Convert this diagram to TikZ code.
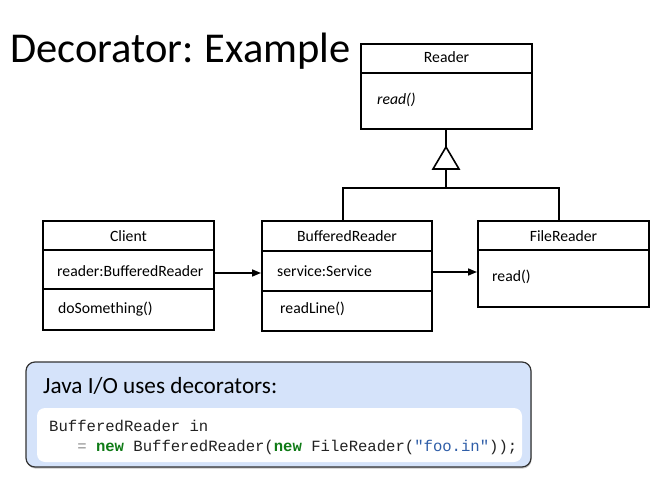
\documentclass[tikz,border=0pt]{standalone}
\usepackage{fontspec}
\setmainfont{Carlito}
\newfontfamily\codefont{Liberation Mono}
\usetikzlibrary{arrows.meta,shadows}
\definecolor{boxblue}{HTML}{D5E3FA}
\definecolor{kwgreen}{HTML}{0F7B16}
\definecolor{strblue}{HTML}{2F5EA8}
\definecolor{codegray}{HTML}{222222}
\definecolor{eqgray}{HTML}{8A8A8A}
\definecolor{framegray}{HTML}{333333}
\begin{document}
\begin{tikzpicture}[x=1pt,y=-1pt,
  umlbox/.style={draw=black, line width=2pt, inner sep=0pt},
  divider/.style={draw=black, line width=1.5pt},
  umltext/.style={inner sep=0pt, font=\fontsize{15.7}{18}\selectfont},
  link/.style={draw=black, line width=1.6pt},
  assoc/.style={link, -{Triangle[length=9pt,width=7pt]}},
  codetext/.style={inner sep=0pt, anchor=base west, text=codegray,
    font=\codefont\fontsize{15.6}{18}\selectfont}]
\useasboundingbox (0,0) rectangle (659,492);

% title
\node[inner sep=0pt, anchor=base west, font=\fontsize{42.5}{48}\selectfont] (title) at (10,63) {Decorator:\hspace{-2pt} Example};

% classes
\node[umlbox, minimum width=171pt, minimum height=85pt] (reader) at (446.5,86.5) {};
\node[umlbox, minimum width=171pt, minimum height=109pt] (client) at (128.5,275.5) {};
\node[umlbox, minimum width=170pt, minimum height=110pt] (buf) at (347,276) {};
\node[umlbox, minimum width=171pt, minimum height=86pt] (file) at (563.5,264) {};

% divider levels
\coordinate (y73) at (0,73);
\coordinate (y250) at (0,250);
\coordinate (y289) at (0,289);
\coordinate (y251) at (0,251);
\coordinate (y291) at (0,291);
\draw[divider] (reader.west |- y73) -- (reader.east |- y73);
\draw[divider] (client.west |- y250) -- (client.east |- y250);
\draw[divider] (client.west |- y289) -- (client.east |- y289);
\draw[divider] (buf.west |- y251) -- (buf.east |- y251);
\draw[divider] (buf.west |- y291) -- (buf.east |- y291);
\draw[divider] (file.west |- y250) -- (file.east |- y250);

% class texts
\node[umltext, anchor=base] (readerT) at (446.5,63) {Reader};
\node[umltext, anchor=base west] (readerM) at (377,105) {\itshape read()};
\node[umltext, anchor=base] (clientT) at (128.5,241) {Client};
\node[umltext, anchor=base west] (clientA) at (57,276) {reader:BufferedReader};
\node[umltext, anchor=base west] (clientM) at (58,313) {doSomething()};
\node[umltext, anchor=base] (bufT) at (347,241) {BufferedReader};
\node[umltext, anchor=base west] (bufA) at (277,276) {service:Service};
\node[umltext, anchor=base west] (bufM) at (280,313) {readLine()};
\node[umltext, anchor=base] (fileT) at (563.5,241) {FileReader};
\node[umltext, anchor=base west] (fileM) at (492,281) {read()};

% inheritance
\coordinate (apex) at (446,147);
\coordinate (triL) at (433,169);
\coordinate (triR) at (459,169);
\coordinate (triB) at (446,169);
\coordinate (junc) at (446,188);
\coordinate (brL) at (343,188);
\coordinate (brR) at (559,188);
\draw[link] (reader.south -| apex) -- (apex);
\draw[link, line join=miter] (apex) -- (triR) -- (triL) -- cycle;
\draw[link] (triB) -- (junc);
\draw[link] (brL |- buf.north) -- (brL) -- (brR) -- (brR |- file.north);

% associations
\coordinate (a1) at (0,273);
\coordinate (a2) at (0,272);
\draw[assoc] (client.east |- a1) -- (buf.west |- a1);
\draw[assoc] (buf.east |- a2) -- (file.west |- a2);

% Java I/O box
\draw[draw=framegray, line width=1.2pt, fill=boxblue, rounded corners=9pt,
  drop shadow={shadow xshift=0.6pt, shadow yshift=-1.6pt, opacity=0.45}]
  (26,362) rectangle (531,467);
\node[inner sep=0pt, anchor=base west, font=\fontsize{23.2}{27}\selectfont] (javaT) at (43,393) {Java I/O uses decorators:};
\fill[white, rounded corners=8pt] (37,408) rectangle (522,462);
\node[codetext] (code1) at (49,431) {BufferedReader in};
\node[codetext] (code2) at (49,451) {\hspace*{28.08pt}\textcolor{eqgray}{=} \textcolor{kwgreen}{\bfseries new} BufferedReader(\textcolor{kwgreen}{\bfseries new} FileReader(\textcolor{strblue}{"foo.in"}));};
\end{tikzpicture}
\end{document}
